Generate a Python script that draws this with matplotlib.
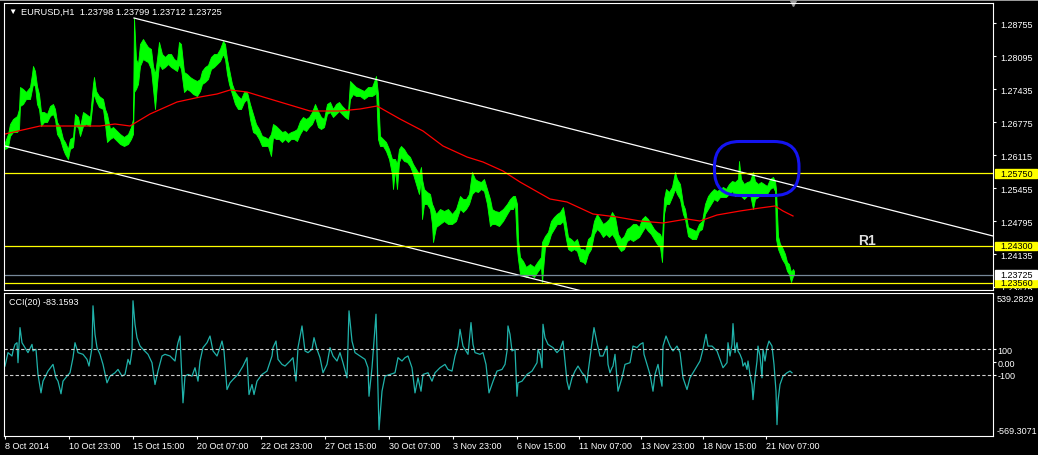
import matplotlib
matplotlib.use('Agg')
import matplotlib.pyplot as plt
from matplotlib.patches import FancyBboxPatch, Rectangle

plt.rcParams['font.family'] = ['Liberation Sans', 'DejaVu Sans']
plt.rcParams['font.size'] = 6.5

# EURUSD H1: bar number, bar high, bar low
bars = [5, 8, 10, 13, 17, 19, 20, 23, 26, 30, 32, 33,
        35, 37, 39, 41, 44, 47, 50, 53, 55, 57, 60, 63,
        65, 68, 70, 73, 75, 78, 80, 83, 86, 90, 93, 94,
        96, 99, 103, 105, 107, 110, 113, 117, 120, 124, 128, 131,
        133, 134, 136, 138, 140, 143, 146, 148, 151, 153, 155, 157,
        159, 162, 165, 168, 171, 174, 177, 179, 181, 184, 187, 190,
        193, 197, 200, 202, 205, 208, 211, 214, 217, 220, 223, 225,
        227, 229, 232, 235, 238, 241, 244, 247, 250, 253, 256, 259,
        262, 265, 268, 271, 273, 276, 279, 282, 285, 288, 291, 294,
        297, 300, 303, 306, 309, 312, 315, 318, 321, 324, 327, 330,
        333, 336, 339, 342, 345, 348, 350, 353, 356, 360, 364, 368,
        372, 375, 376, 378, 380, 383, 386, 389, 392, 393, 395, 397,
        399, 401, 404, 407, 410, 413, 416, 419, 421, 422, 424, 427,
        430, 432, 433, 436, 440, 444, 448, 452, 456, 460, 463, 466,
        469, 472, 475, 478, 481, 484, 487, 490, 492, 495, 499, 503,
        507, 510, 513, 515, 517, 518, 520, 523, 526, 530, 534, 538,
        541, 542, 545, 548, 551, 554, 557, 560, 563, 566, 568, 571,
        574, 577, 580, 583, 585, 588, 591, 594, 597, 600, 603, 606,
        609, 612, 615, 618, 621, 624, 627, 630, 633, 636, 639, 642,
        645, 648, 651, 654, 657, 660, 662, 664, 666, 669, 672, 675,
        677, 680, 683, 685, 688, 692, 696, 699, 702, 705, 708, 711,
        714, 717, 720, 723, 726, 729, 732, 735, 738, 739, 741, 744,
        747, 750, 753, 755, 758, 761, 764, 767, 770, 773, 775, 776,
        778, 780, 782, 785, 787, 789, 791, 793, 794]

high = [1.2638, 1.2654, 1.2674, 1.2684, 1.2690, 1.2704, 1.2748, 1.2744, 1.2738, 1.2748, 1.2774, 1.2790,
        1.2780, 1.2750, 1.2734, 1.2698, 1.2698, 1.2694, 1.2710, 1.2714, 1.2704, 1.2678, 1.2668, 1.2644,
        1.2638, 1.2624, 1.2644, 1.2648, 1.2694, 1.2688, 1.2668, 1.2698, 1.2694, 1.2688, 1.2754, 1.2768,
        1.2740, 1.2730, 1.2724, 1.2704, 1.2694, 1.2664, 1.2668, 1.2660, 1.2654, 1.2648, 1.2654, 1.2668,
        1.2684, 1.2886, 1.2804, 1.2794, 1.2834, 1.2844, 1.2834, 1.2828, 1.2824, 1.2790, 1.2774, 1.2804,
        1.2838, 1.2814, 1.2808, 1.2814, 1.2814, 1.2804, 1.2800, 1.2838, 1.2834, 1.2778, 1.2774, 1.2768,
        1.2764, 1.2760, 1.2764, 1.2780, 1.2788, 1.2792, 1.2808, 1.2814, 1.2814, 1.2824, 1.2840, 1.2834,
        1.2804, 1.2784, 1.2754, 1.2738, 1.2730, 1.2724, 1.2738, 1.2738, 1.2714, 1.2694, 1.2674, 1.2664,
        1.2650, 1.2648, 1.2644, 1.2654, 1.2674, 1.2670, 1.2664, 1.2658, 1.2660, 1.2654, 1.2658, 1.2660,
        1.2664, 1.2680, 1.2688, 1.2684, 1.2688, 1.2698, 1.2714, 1.2700, 1.2688, 1.2684, 1.2714, 1.2718,
        1.2704, 1.2714, 1.2718, 1.2710, 1.2704, 1.2698, 1.2760, 1.2754, 1.2748, 1.2744, 1.2740, 1.2748,
        1.2748, 1.2764, 1.2770, 1.2734, 1.2650, 1.2644, 1.2638, 1.2624, 1.2604, 1.2604, 1.2604, 1.2594,
        1.2624, 1.2630, 1.2624, 1.2614, 1.2608, 1.2594, 1.2584, 1.2574, 1.2588, 1.2564, 1.2544, 1.2538,
        1.2534, 1.2514, 1.2510, 1.2494, 1.2504, 1.2500, 1.2504, 1.2494, 1.2504, 1.2530, 1.2524, 1.2524,
        1.2534, 1.2578, 1.2564, 1.2560, 1.2558, 1.2564, 1.2544, 1.2524, 1.2504, 1.2500, 1.2498, 1.2504,
        1.2514, 1.2524, 1.2530, 1.2530, 1.2514, 1.2444, 1.2408, 1.2400, 1.2388, 1.2394, 1.2388, 1.2400,
        1.2408, 1.2438, 1.2450, 1.2458, 1.2480, 1.2488, 1.2494, 1.2498, 1.2508, 1.2474, 1.2448, 1.2444,
        1.2438, 1.2444, 1.2424, 1.2424, 1.2420, 1.2444, 1.2450, 1.2480, 1.2494, 1.2484, 1.2474, 1.2478,
        1.2484, 1.2498, 1.2488, 1.2454, 1.2444, 1.2450, 1.2464, 1.2468, 1.2474, 1.2474, 1.2468, 1.2484,
        1.2490, 1.2484, 1.2474, 1.2464, 1.2458, 1.2454, 1.2444, 1.2524, 1.2544, 1.2538, 1.2548, 1.2578,
        1.2564, 1.2554, 1.2514, 1.2504, 1.2468, 1.2464, 1.2460, 1.2474, 1.2480, 1.2514, 1.2530, 1.2538,
        1.2544, 1.2540, 1.2544, 1.2548, 1.2544, 1.2554, 1.2560, 1.2558, 1.2564, 1.2600, 1.2564, 1.2554,
        1.2558, 1.2560, 1.2578, 1.2560, 1.2554, 1.2558, 1.2554, 1.2550, 1.2564, 1.2568, 1.2560, 1.2544,
        1.2450, 1.2434, 1.2428, 1.2414, 1.2398, 1.2394, 1.2378, 1.2384, 1.2380]

low = [1.2624, 1.2628, 1.2650, 1.2658, 1.2658, 1.2664, 1.2710, 1.2714, 1.2724, 1.2724, 1.2744, 1.2754,
       1.2750, 1.2714, 1.2704, 1.2670, 1.2678, 1.2678, 1.2690, 1.2694, 1.2684, 1.2654, 1.2644, 1.2624,
       1.2614, 1.2604, 1.2624, 1.2628, 1.2670, 1.2668, 1.2650, 1.2670, 1.2674, 1.2670, 1.2724, 1.2734,
       1.2720, 1.2708, 1.2704, 1.2674, 1.2638, 1.2644, 1.2648, 1.2640, 1.2634, 1.2630, 1.2634, 1.2644,
       1.2654, 1.2738, 1.2744, 1.2754, 1.2790, 1.2804, 1.2800, 1.2798, 1.2784, 1.2744, 1.2704, 1.2754,
       1.2794, 1.2784, 1.2788, 1.2794, 1.2788, 1.2784, 1.2780, 1.2794, 1.2784, 1.2738, 1.2744, 1.2740,
       1.2734, 1.2730, 1.2740, 1.2754, 1.2758, 1.2764, 1.2784, 1.2788, 1.2794, 1.2800, 1.2814, 1.2804,
       1.2774, 1.2754, 1.2734, 1.2714, 1.2704, 1.2704, 1.2718, 1.2724, 1.2684, 1.2658, 1.2654, 1.2644,
       1.2630, 1.2630, 1.2630, 1.2610, 1.2648, 1.2644, 1.2644, 1.2638, 1.2644, 1.2638, 1.2644, 1.2644,
       1.2640, 1.2654, 1.2664, 1.2660, 1.2668, 1.2674, 1.2688, 1.2668, 1.2664, 1.2668, 1.2694, 1.2698,
       1.2688, 1.2694, 1.2700, 1.2694, 1.2688, 1.2684, 1.2724, 1.2734, 1.2730, 1.2730, 1.2724, 1.2730,
       1.2730, 1.2734, 1.2744, 1.2644, 1.2630, 1.2630, 1.2620, 1.2604, 1.2574, 1.2544, 1.2584, 1.2544,
       1.2598, 1.2608, 1.2600, 1.2598, 1.2590, 1.2574, 1.2554, 1.2534, 1.2564, 1.2484, 1.2514, 1.2514,
       1.2504, 1.2474, 1.2438, 1.2468, 1.2474, 1.2480, 1.2474, 1.2474, 1.2480, 1.2504, 1.2498, 1.2504,
       1.2514, 1.2534, 1.2540, 1.2538, 1.2544, 1.2540, 1.2514, 1.2470, 1.2474, 1.2474, 1.2470, 1.2480,
       1.2494, 1.2504, 1.2504, 1.2514, 1.2424, 1.2404, 1.2374, 1.2374, 1.2368, 1.2374, 1.2368, 1.2380,
       1.2388, 1.2358, 1.2428, 1.2434, 1.2454, 1.2464, 1.2474, 1.2474, 1.2480, 1.2444, 1.2424, 1.2420,
       1.2424, 1.2420, 1.2400, 1.2398, 1.2394, 1.2414, 1.2424, 1.2454, 1.2464, 1.2458, 1.2448, 1.2454,
       1.2448, 1.2454, 1.2444, 1.2428, 1.2420, 1.2424, 1.2440, 1.2444, 1.2440, 1.2444, 1.2448, 1.2458,
       1.2468, 1.2460, 1.2454, 1.2444, 1.2434, 1.2428, 1.2398, 1.2494, 1.2514, 1.2514, 1.2528, 1.2544,
       1.2534, 1.2524, 1.2494, 1.2484, 1.2450, 1.2444, 1.2444, 1.2460, 1.2464, 1.2494, 1.2504, 1.2514,
       1.2524, 1.2520, 1.2528, 1.2528, 1.2528, 1.2534, 1.2540, 1.2530, 1.2534, 1.2534, 1.2530, 1.2524,
       1.2530, 1.2534, 1.2504, 1.2524, 1.2528, 1.2534, 1.2534, 1.2534, 1.2544, 1.2548, 1.2540, 1.2444,
       1.2424, 1.2414, 1.2404, 1.2394, 1.2380, 1.2374, 1.2358, 1.2370, 1.2372]

# moving average (red)
ma_bars = [5, 40, 100, 115, 130, 150, 177, 200, 217, 230, 247, 260, 280, 310, 340, 360, 377,
           400, 423, 443, 467, 483, 503, 520, 550, 567, 593, 617, 640, 663, 687, 700, 717, 740,
           760, 775, 783, 793]
ma = [1.2654, 1.2670, 1.2670, 1.2674, 1.2670, 1.2694, 1.2718, 1.2728, 1.2734, 1.2742, 1.2738,
      1.2730, 1.2718, 1.2700, 1.2700, 1.2704, 1.2710, 1.2684, 1.2660, 1.2630, 1.2608, 1.2598,
      1.2580, 1.2558, 1.2524, 1.2518, 1.2494, 1.2488, 1.2480, 1.2476, 1.2484, 1.2480, 1.2492,
      1.2500, 1.2506, 1.2510, 1.2500, 1.2490]

# CCI(20)
cci_bars = [5, 8, 12, 13, 15, 17, 18, 20, 22, 25, 28, 32,
            33, 36, 38, 41, 43, 48, 53, 56, 58, 61, 63, 67,
            70, 73, 75, 78, 83, 87, 89, 92, 93, 95, 97, 100,
            103, 107, 110, 115, 118, 122, 125, 128, 130, 132, 133, 135,
            137, 140, 143, 148, 152, 155, 158, 162, 165, 170, 175, 177,
            178, 180, 181, 183, 185, 188, 192, 195, 198, 200, 203, 207,
            210, 213, 217, 220, 222, 224, 227, 230, 233, 238, 243, 247,
            249, 252, 254, 257, 262, 267, 272, 273, 276, 278, 282, 285,
            290, 293, 296, 298, 302, 305, 308, 312, 314, 317, 320, 323,
            327, 330, 333, 337, 340, 343, 347, 349, 352, 355, 360, 365,
            368, 369, 372, 373, 376, 377, 379, 382, 385, 390, 395, 398,
            402, 405, 408, 412, 415, 418, 421, 423, 428, 432, 435, 440,
            445, 448, 452, 455, 458, 460, 463, 465, 468, 471, 473, 475,
            480, 483, 486, 489, 493, 497, 502, 505, 507, 508, 510, 512,
            515, 517, 518, 522, 527, 532, 537, 538, 540, 542, 543, 545,
            548, 553, 557, 560, 563, 564, 567, 569, 572, 575, 578, 582,
            585, 587, 588, 592, 594, 597, 600, 603, 607, 608, 610, 612,
            613, 615, 617, 618, 622, 625, 630, 633, 637, 640, 643, 644,
            647, 650, 653, 655, 658, 660, 662, 663, 666, 670, 673, 677,
            680, 683, 687, 690, 695, 700, 703, 706, 708, 712, 717, 720,
            723, 727, 728, 730, 732, 733, 735, 737, 738, 740, 742, 743,
            745, 747, 748, 750, 752, 753, 755, 757, 758, 760, 762, 763,
            765, 767, 769, 772, 774, 776, 777, 778, 780, 783, 787, 790,
            792]
cci = [-31, 73, 47, 86, 137, 150, -5, 267, 150, 112, 73, 137,
       86, 99, -96, -239, -148, -70, -18, -122, -148, -246, -148, -109,
       -83, 34, 150, 73, 60, 21, -31, 112, 436, 215, 112, 60,
       -18, -161, -109, -83, -57, -109, -96, 21, -18, 86, 475, 293,
       189, 125, 99, 60, -5, -174, -70, 47, 60, 47, 8, 112,
       150, 202, 34, -316, -109, -96, -109, -44, -148, 8, 112, 150,
       202, 86, 47, 112, 163, 86, -213, -161, -135, -96, -31, 34,
       -252, -174, -252, -148, -96, -70, 47, 112, 163, 21, -18, -31,
       8, 34, -148, 112, 280, 86, 73, 99, 189, 99, 34, -83,
       -18, 112, 47, 8, 73, -5, -122, 397, 163, 73, 47, 21,
       -44, -265, -44, 60, 371, 86, -524, -226, -109, -96, -83, 34,
       8, 34, 47, -44, -239, -122, -226, -96, -83, -148, -83, -44,
       -18, -57, -70, 47, 124, 254, 124, 99, 60, 306, 137, 73,
       60, 73, -18, -239, -150, -70, -57, -18, 86, 280, 215, 86,
       99, -265, -161, -148, -96, -70, -5, 99, 60, -44, 293, 189,
       137, 112, 73, 99, 163, 86, -148, -213, -122, -70, -31, -83,
       -109, -161, -83, 150, 267, 150, 47, 47, 124, -18, -83, -44,
       -31, 60, -135, -226, -122, -18, -5, 124, 112, 137, 150, 60,
       -18, -96, -226, -96, -18, -109, -187, 124, 202, 124, 86, 124,
       73, -122, -213, -122, -57, 8, 99, 215, 124, 124, 86, 21,
       -44, -5, 150, 47, 137, 298, 73, 150, 86, 60, 21, -31,
       -5, -57, 8, -96, -174, -291, -122, 8, 124, 47, -122, 99,
       8, 112, 163, 124, -18, -226, -485, -304, -174, -109, -83, -70,
       -83]

date_pos = [5, 69, 133, 197, 261, 325, 389, 453, 517, 579, 641, 703, 766]
date_lbl = ['8 Oct 2014', '10 Oct 23:00', '15 Oct 15:00', '20 Oct 07:00', '22 Oct 23:00',
            '27 Oct 15:00', '30 Oct 07:00', '3 Nov 23:00', '6 Nov 15:00', '11 Nov 07:00',
            '13 Nov 23:00', '18 Nov 15:00', '21 Nov 07:00']
price_ticks = [1.28755, 1.28095, 1.27435, 1.26775, 1.26115, 1.25455, 1.24795, 1.24135, 1.23475]
levels = [1.2575, 1.2430, 1.2356]
bid = 1.23725
chan_top_x, chan_top_y = [134, 993], [1.2886, 1.2450]
chan_bot_x, chan_bot_y = [5, 580], [1.2630, 1.2341]
cci_max, cci_min = 539.2829, -569.3071

W, H = 1038, 456
fig = plt.figure(figsize=(W / 100, H / 100), dpi=100, facecolor='black')


def rect(l, t, r, b):
    return [l / W, 1 - b / H, (r - l) / W, (b - t) / H]


ax = fig.add_axes(rect(4.5, 4, 993, 291))
axc = fig.add_axes(rect(4.5, 293.5, 993, 436.5), sharex=ax)
axl = fig.add_axes(rect(993, 4, 1038, 291), sharey=ax)

for a in (ax, axc):
    a.set_facecolor('black')
    for s in a.spines.values():
        s.set_color('white')
        s.set_linewidth(0.8)

# thin grey window frame on top
fig.add_artist(Rectangle((0, 1 - 1.5 / H), 1, 1.5 / H, transform=fig.transFigure,
                         color='#9a9a9a', lw=0))

# price panel
ax.fill_between(bars, low, high, color='#00ff00', lw=0.6)
ax.plot(ma_bars, ma, color='#ff0000', lw=0.9)
ax.plot(chan_top_x, chan_top_y, color='white', lw=0.9)
ax.plot(chan_bot_x, chan_bot_y, color='white', lw=0.9)
for lv in levels:
    ax.axhline(lv, color='#ffff00', lw=0.9)
ax.axhline(bid, color='#778899', lw=0.9)
ax.add_patch(FancyBboxPatch((714.5, 1.2531), 84.5, 0.0108,
                            boxstyle='round,pad=0,rounding_size=25', mutation_aspect=0.0002,
                            fill=False, ec='#1414f0', lw=2.2, zorder=5))
ax.text(858, 1.2442, 'R1', color='#e0e0e0', fontsize=10, fontweight='bold', va='center')
ax.plot([793], [1.0], marker='v', ms=5, color='#9a9a9a', transform=ax.get_xaxis_transform(),
        clip_on=False)

ax.set_xlim(4.5, 993)
ax.set_ylim(1.2342, 1.2916)
ax.yaxis.tick_right()
ax.set_yticks(price_ticks, labels=[f'{p:.5f}' for p in price_ticks])
ax.tick_params(axis='y', colors='white', length=2, width=0.8, pad=3)
ax.tick_params(axis='x', bottom=False, labelbottom=False)
# lowest price label is cut by the panel edge, as in the terminal
for t in ax.get_yticklabels():
    t.set_clip_box(axl.bbox)

# label strip with highlighted levels
axl.axis('off')
axl.set_xlim(993, 1038)
for lv, c in zip(levels + [bid], ['#ffff00'] * 3 + ['white']):
    axl.add_patch(Rectangle((995, lv - 0.00085), 42, 0.0017, color=c))
    axl.text(1000, lv, f'{lv:.5f}', color='black', va='center')

fig.text(12 / W, 1 - 12.5 / H, '\u25bc', color='white', fontsize=6, ha='center', va='center')
fig.text(21 / W, 1 - 12.5 / H, 'EURUSD,H1  1.23798 1.23799 1.23712 1.23725', color='white',
         va='center', fontsize=6.7)

# CCI panel
axc.plot(cci_bars, cci, color='#20b2aa', lw=0.9)
for lv in (100, -100):
    axc.axhline(lv, color='#d0d0d0', lw=0.8, ls=(0, (3, 2)))
axc.set_ylim(cci_min, cci_max)
axc.yaxis.tick_right()
axc.set_yticks([100, 0, -100], labels=['100', '0.00', '-100'])
axc.tick_params(axis='y', colors='white', length=2, width=0.8, pad=1)
axc.set_xticks(date_pos, labels=date_lbl, ha='left')
axc.tick_params(axis='x', colors='white', length=2, width=0.8, pad=2)
fig.text(997 / W, 1 - 300 / H, f'{cci_max:.4f}', color='white', va='center')
fig.text(997 / W, 1 - 432 / H, f'{cci_min:.4f}', color='white', va='center')
fig.text(9 / W, 1 - 302.5 / H, 'CCI(20) -83.1593', color='white', va='center')

fig.savefig('out.png', dpi=100, facecolor='black')
